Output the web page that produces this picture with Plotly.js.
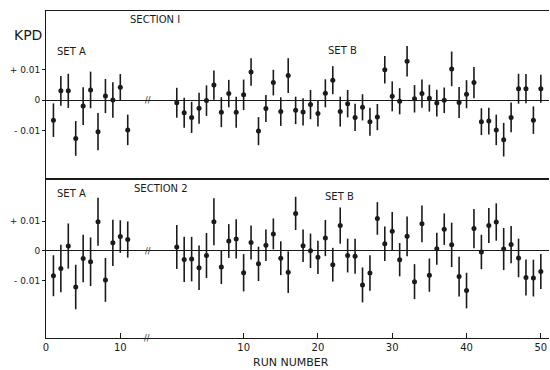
<!DOCTYPE html>
<html>
<head>
<meta charset="utf-8">
<script src="https://cdn.plot.ly/plotly-3.0.1.min.js"></script>
<style>html,body{margin:0;padding:0;background:#fff;}#chart{width:550px;height:370px;}</style>
</head>
<body>
<div id="chart"></div>
<script>
// Run numbers
const runsA = [1,2,3,4,5,6,7,8,9,10,11];
const runsB = [1,2,3,4,5,6,7,8,9,10,11,12,13,14,15,16,17,18,19,20,21,22,23,24,25,
               26,27,28,29,30,31,32,33,34,35,36,37,38,39,40,41,42,43,44,45,46,47,48,49,50];

// Section 1
const sec1A    = [-0.0066, 0.0030, 0.0030, -0.0126, -0.0020, 0.0033, -0.0104, 0.0013, 0.0000, 0.0042, -0.0098];
const sec1Aerr = [0.0055, 0.0049, 0.0056, 0.0057, 0.0062, 0.0060, 0.0061, 0.0056, 0.0058, 0.0043, 0.0050];
const sec1B    = [-0.0009,-0.0042,-0.0057,-0.0027,-0.0002, 0.0049,-0.0040, 0.0021,-0.0040, 0.0017,
                   0.0092,-0.0102,-0.0028, 0.0057,-0.0038, 0.0080,-0.0034,-0.0039,-0.0015,-0.0044,
                   0.0022, 0.0065,-0.0038,-0.0012,-0.0057,-0.0024,-0.0071,-0.0056, 0.0099, 0.0012,
                  -0.0004, 0.0127, 0.0004, 0.0021, 0.0006,-0.0010,-0.0001, 0.0102,-0.0008, 0.0019,
                   0.0057,-0.0071,-0.0069,-0.0098,-0.0130,-0.0057, 0.0037, 0.0037,-0.0066, 0.0037];
const sec1Berr = [0.0049,0.0049,0.0051,0.0051,0.0050,0.0048,0.0049,0.0045,0.0051,0.0050,
                  0.0045,0.0046,0.0044,0.0042,0.0047,0.0057,0.0045,0.0045,0.0048,0.0043,
                  0.0046,0.0046,0.0049,0.0045,0.0045,0.0043,0.0046,0.0043,0.0045,0.0049,
                  0.0043,0.0050,0.0045,0.0046,0.0044,0.0044,0.0042,0.0057,0.0051,0.0046,
                  0.0051,0.0044,0.0044,0.0050,0.0055,0.0049,0.0049,0.0048,0.0045,0.0046];

// Section 2
const sec2A    = [-0.0084, -0.0060, 0.0016, -0.0122, -0.0026, -0.0037, 0.0098, -0.0098, 0.0027, 0.0048, 0.0038];
const sec2Aerr = [0.0069, 0.0080, 0.0076, 0.0075, 0.0080, 0.0082, 0.0081, 0.0074, 0.0078, 0.0055, 0.0061];
const sec2B    = [ 0.0013,-0.0029,-0.0028,-0.0057,-0.0016, 0.0098,-0.0055, 0.0033, 0.0040,-0.0074,
                   0.0028,-0.0044, 0.0019, 0.0057,-0.0025,-0.0072, 0.0126, 0.0017, 0.0000,-0.0022,
                   0.0043,-0.0047, 0.0085,-0.0016,-0.0018,-0.0115,-0.0075, 0.0109, 0.0024, 0.0066,
                  -0.0030, 0.0049,-0.0104, 0.0091,-0.0082, 0.0007, 0.0073, 0.0020,-0.0087,-0.0134,
                   0.0075,-0.0004, 0.0085, 0.0097, 0.0006, 0.0021,-0.0024,-0.0090,-0.0092,-0.0070];
const sec2Berr = [0.0074,0.0076,0.0075,0.0075,0.0076,0.0079,0.0057,0.0057,0.0066,0.0063,
                  0.0057,0.0058,0.0053,0.0052,0.0057,0.0070,0.0056,0.0055,0.0058,0.0056,
                  0.0061,0.0057,0.0061,0.0057,0.0059,0.0059,0.0060,0.0055,0.0058,0.0065,
                  0.0056,0.0067,0.0059,0.0062,0.0056,0.0054,0.0053,0.0075,0.0067,0.0060,
                  0.0066,0.0058,0.0059,0.0063,0.0071,0.0063,0.0065,0.0061,0.0062,0.0059];

// Tick labels
const xTickText = ['0','10','10','20','30','40','50'];
const yTickText = ['+ 0.01','0','- 0.01'];

// Broken axis: Set B plotted after a gap
const B_OFFSET = 16.6;
const bx = runsB.map(r => r + B_OFFSET);
const xTickVals = [0, 10, 10 + B_OFFSET, 20 + B_OFFSET, 30 + B_OFFSET, 40 + B_OFFSET, 50 + B_OFFSET];

const INK = '#1a1a1a';
const FONT = 'DejaVu Sans, sans-serif';

function tr(x, y, err, xa, ya) {
  return {
    x: x, y: y, xaxis: xa, yaxis: ya, type: 'scatter', mode: 'markers',
    marker: {color: INK, size: 5},
    error_y: {type: 'data', array: err, visible: true, color: INK, thickness: 1.6, width: 0},
    showlegend: false, hoverinfo: 'skip', cliponaxis: false
  };
}

const data = [
  tr(runsA, sec1A, sec1Aerr, 'x2', 'y2'),
  tr(bx, sec1B, sec1Berr, 'x2', 'y2'),
  tr(runsA, sec2A, sec2Aerr, 'x', 'y'),
  tr(bx, sec2B, sec2Berr, 'x', 'y')
];

// plot area in px: left 46, right 549, top 11, bottom 338
const L = 46, R = 549, T = 11, B = 338;
const px = v => (v - L) / (R - L);
const py = v => (B - v) / (B - T);
const split = py(179);

function txt(text, x, y, size, xanchor) {
  return {text: text, xref: 'paper', yref: 'paper', x: px(x), y: py(y),
          xanchor: xanchor || 'left', yanchor: 'middle', showarrow: false,
          font: {family: FONT, size: size, color: INK}};
}

const annotations = [
  txt('KPD', 28, 35, 14, 'center'),
  txt('SECTION I', 128, 19, 10),
  txt('SET A', 55, 52, 10),
  txt('SET B', 326, 51, 10),
  txt('SECTION 2', 132, 188, 10),
  txt('SET A', 55, 193, 10),
  txt('SET B', 323, 196, 10),
  txt('RUN NUMBER', 291, 362, 11, 'center'),
  txt('//', 148, 100, 8, 'center'),
  txt('//', 148, 251, 8, 'center'),
  txt('//', 147, 338, 8, 'center')
];

const axisLine = {showline: true, linecolor: INK, linewidth: 1, showgrid: false};

const layout = {
  width: 550, height: 370,
  margin: {l: L, r: 550 - R, t: T, b: 370 - B, pad: 0},
  paper_bgcolor: '#fff', plot_bgcolor: '#fff',
  font: {family: FONT, color: INK},
  showlegend: false,
  xaxis: Object.assign({}, axisLine, {
    domain: [0, 1], anchor: 'y', range: [0, 67.7], mirror: true,
    tickmode: 'array', tickvals: xTickVals, ticktext: xTickText,
    ticks: 'inside', ticklen: 5, tickcolor: INK, zeroline: false,
    tickfont: {family: FONT, size: 10, color: INK}
  }),
  xaxis2: Object.assign({}, axisLine, {
    domain: [0, 1], anchor: 'y2', matches: 'x', mirror: true,
    showticklabels: false, ticks: '', zeroline: false
  }),
  yaxis: Object.assign({}, axisLine, {
    domain: [0, split], anchor: 'x', range: [-0.02939, 0.0242],
    tickmode: 'array', tickvals: [0.01, 0, -0.01], ticktext: yTickText,
    ticks: 'outside', ticklen: 3, tickcolor: INK,
    zeroline: true, zerolinecolor: INK, zerolinewidth: 1,
    tickfont: {family: FONT, size: 9, color: INK}
  }),
  yaxis2: Object.assign({}, axisLine, {
    domain: [split, 1], anchor: 'x2', range: [-0.0259, 0.02918],
    tickmode: 'array', tickvals: [0.01, 0, -0.01], ticktext: yTickText,
    ticks: 'outside', ticklen: 3, tickcolor: INK,
    zeroline: true, zerolinecolor: INK, zerolinewidth: 1,
    tickfont: {family: FONT, size: 9, color: INK}
  }),
  annotations: annotations
};

Plotly.newPlot('chart', data, layout, {staticPlot: true, displayModeBar: false});
</script>
</body>
</html>
